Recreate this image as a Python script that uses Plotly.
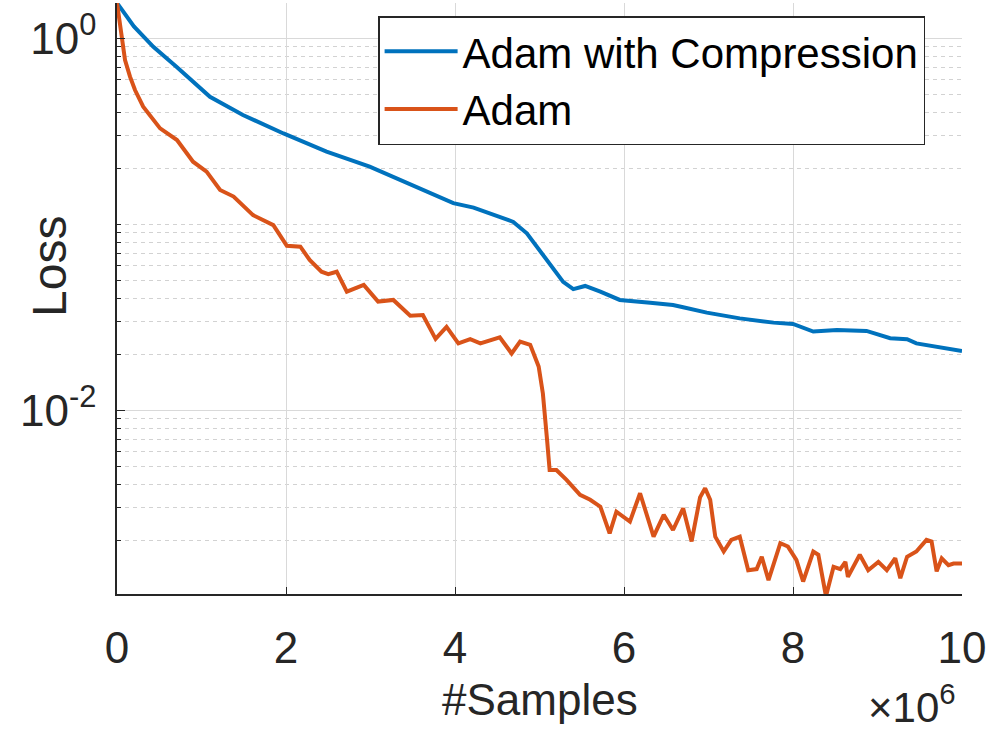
import plotly.graph_objects as go

# x in units of 10^6 samples
comp_x = [0.0, 0.2, 0.43, 0.71, 1.10, 1.49, 1.97, 2.48, 2.99, 3.35, 3.47, 3.98, 4.22, 4.69,
          4.85, 5.09, 5.28, 5.40, 5.54, 5.72, 5.95, 6.31, 6.58, 6.70, 6.98, 7.37, 7.77,
          8.00, 8.24, 8.52, 8.87, 9.15, 9.35, 9.46, 9.78, 10.0]
comp_loss = [1.55, 1.16, 0.90, 0.70, 0.485, 0.387, 0.308, 0.246, 0.204, 0.173, 0.163, 0.130,
             0.123, 0.103, 0.0895, 0.0643, 0.049, 0.0448, 0.0466, 0.0434, 0.0392, 0.0379,
             0.0368, 0.0358, 0.0335, 0.0312, 0.0296, 0.0291, 0.0265, 0.0270, 0.0267, 0.0244,
             0.0241, 0.0229, 0.0215, 0.0208]

adam_x = [0.0, 0.055, 0.095, 0.154, 0.213, 0.31, 0.51, 0.71, 0.90, 1.06, 1.22, 1.38, 1.61,
          1.85, 2.01, 2.17, 2.28, 2.42, 2.50, 2.60, 2.72, 2.92, 3.09, 3.27, 3.35, 3.47, 3.62,
          3.77, 3.90, 4.04, 4.18, 4.30, 4.53, 4.67, 4.77, 4.89, 4.99, 5.04, 5.09, 5.12, 5.20,
          5.32, 5.48, 5.60, 5.72, 5.83, 5.91, 6.07, 6.19, 6.35, 6.47, 6.58, 6.70, 6.80, 6.90,
          6.96, 7.02, 7.08, 7.18, 7.27, 7.37, 7.47, 7.57, 7.63, 7.71, 7.85, 7.94, 8.04, 8.12,
          8.24, 8.30, 8.39, 8.48, 8.56, 8.62, 8.65, 8.79, 8.89, 9.01, 9.11, 9.21, 9.27, 9.35,
          9.46, 9.58, 9.64, 9.70, 9.76, 9.84, 9.90, 10.0]
adam_loss = [1.55, 1.064, 0.764, 0.622, 0.527, 0.429, 0.328, 0.284, 0.217, 0.192, 0.153, 0.141,
             0.112, 0.099, 0.0766, 0.0758, 0.0643, 0.0556, 0.0540, 0.0556, 0.0434, 0.0472,
             0.0384, 0.0392, 0.0361, 0.0322, 0.0325, 0.0242, 0.0281, 0.0229, 0.0241, 0.0229,
             0.0247, 0.0202, 0.0234, 0.0225, 0.0172, 0.0123, 0.0069, 0.00477, 0.00477,
             0.00422, 0.00351, 0.0033, 0.00303, 0.00218, 0.00285, 0.00252, 0.00358, 0.00209,
             0.00274, 0.00227, 0.00297, 0.00197, 0.0034, 0.00381, 0.0033, 0.00209, 0.00174,
             0.00201, 0.00209, 0.00138, 0.00140, 0.00163, 0.00122, 0.00193, 0.00185, 0.00157,
             0.0012, 0.00174, 0.00167, 0.00100, 0.00144, 0.0014, 0.00153, 0.00127, 0.00167,
             0.00138, 0.00153, 0.00138, 0.0016, 0.00125, 0.00163, 0.00174, 0.00201, 0.00197,
             0.00136, 0.0016, 0.00147, 0.0015, 0.0015]

x_ticks = [0, 2, 4, 6, 8, 10]
y_ticks = [0.01, 1]
y_tick_text = ["10<sup>-2</sup>", "10<sup>0</sup>"]
y_minor = [m * 10.0 ** e for e in (-3, -2, -1) for m in range(2, 10)] + [0.1]

FONT = "Liberation Sans, Arial, Helvetica, sans-serif"
TXT = "#262626"

fig = go.Figure()
fig.add_trace(go.Scatter(x=comp_x, y=comp_loss, mode="lines", name="Adam with Compression",
                         line=dict(color="#0072BD", width=4)))
fig.add_trace(go.Scatter(x=adam_x, y=adam_loss, mode="lines", name="Adam",
                         line=dict(color="#D95319", width=4)))

fig.update_layout(
    width=1002, height=737,
    margin=dict(l=117, r=40, t=3, b=143),
    paper_bgcolor="white", plot_bgcolor="white",
    font=dict(family=FONT, size=44, color=TXT),
    showlegend=True,
    legend=dict(x=0.309, y=0.978, xanchor="left", yanchor="top",
                bgcolor="white", bordercolor=TXT, borderwidth=1.5,
                font=dict(family=FONT, size=42, color="black"),
                itemwidth=73, tracegroupgap=0),
    xaxis=dict(range=[0, 10], tickvals=x_ticks, ticks="inside", ticklen=7, tickwidth=1.2,
               tickcolor=TXT, showline=True, linecolor=TXT, linewidth=1.5, mirror=False,
               showgrid=True, gridcolor="#d9d9d9", gridwidth=1, zeroline=False,
               tickfont=dict(size=44, color=TXT), ticklabelstandoff=14),
    yaxis=dict(type="log", range=[-2.988, 0.19], tickvals=y_ticks, ticktext=y_tick_text,
               ticks="inside", ticklen=8, tickwidth=1.2, tickcolor=TXT,
               showline=True, linecolor=TXT, linewidth=1.5, mirror=False,
               showgrid=True, gridcolor="#d9d9d9", gridwidth=1, zeroline=False,
               tickfont=dict(size=44, color=TXT), ticklabelstandoff=10,
               minor=dict(tickvals=y_minor, ticks="inside", ticklen=4, tickwidth=1.2,
                          tickcolor=TXT, showgrid=True, gridcolor="#d2d2d2",
                          griddash="4px,4px", gridwidth=1)),
    annotations=[
        dict(text="Loss", xref="paper", yref="paper", x=-0.0793, y=0.555,
             xanchor="center", yanchor="middle", textangle=-90, showarrow=False,
             font=dict(size=48, color=TXT)),
        dict(text="#Samples", xref="paper", yref="paper", x=0.5, y=-0.179,
             xanchor="center", yanchor="middle", showarrow=False,
             font=dict(size=44, color=TXT)),
        dict(text="\u00d710<sup>6</sup>", xref="paper", yref="paper", x=0.995, y=-0.236,
             xanchor="right", yanchor="bottom", showarrow=False,
             font=dict(size=42, color=TXT)),
    ],
)

fig.write_html("out.html")
